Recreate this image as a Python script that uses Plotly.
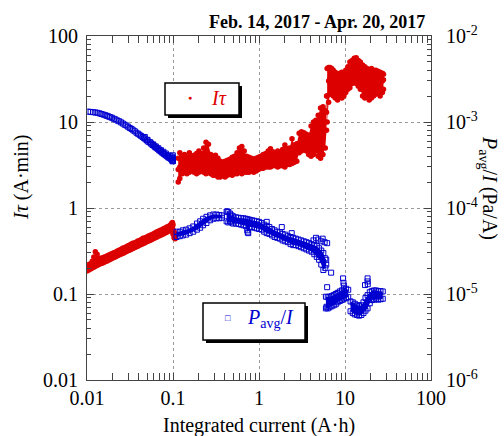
import plotly.graph_objects as go

RED = "#dc0000"
BLUE = "#0000d0"
FONT = "Liberation Serif"

# ---------------- I*tau (A·min) vs integrated current (A·h) ----------------
# segment 1: 0.01 - 0.106 A·h (thin rising band)
it1_x = [0.0100, 0.0105, 0.0110, 0.0115, 0.0120, 0.0125, 0.0131, 0.0137, 0.0143, 0.0150,
         0.0157, 0.0164, 0.0172, 0.0180, 0.0188, 0.0197, 0.0206, 0.0216, 0.0226, 0.0236,
         0.0247, 0.0259, 0.0271, 0.0283, 0.0296, 0.0310, 0.0325, 0.0340, 0.0356, 0.0372,
         0.0390, 0.0408, 0.0427, 0.0447, 0.0468, 0.0490, 0.0513, 0.0537, 0.0562, 0.0588,
         0.0616, 0.0645, 0.0675, 0.0706, 0.0739, 0.0774, 0.0810, 0.0848, 0.0888, 0.0929,
         0.0960, 0.0985, 0.1000, 0.1030, 0.1060]
it1_lo = [0.185, 0.190, 0.195, 0.200, 0.205, 0.210, 0.215, 0.220, 0.225, 0.228,
          0.232, 0.238, 0.242, 0.248, 0.254, 0.260, 0.265, 0.272, 0.278, 0.284,
          0.290, 0.296, 0.302, 0.310, 0.316, 0.322, 0.330, 0.338, 0.345, 0.352,
          0.360, 0.368, 0.376, 0.385, 0.392, 0.402, 0.410, 0.420, 0.428, 0.438,
          0.448, 0.458, 0.468, 0.478, 0.490, 0.500, 0.512, 0.522, 0.535, 0.548,
          0.555, 0.540, 0.500, 0.450, 0.440]
it1_mid = [0.195, 0.205, 0.210, 0.215, 0.225, 0.240, 0.235, 0.235, 0.240, 0.245,
           0.250, 0.255, 0.260, 0.265, 0.270, 0.278, 0.284, 0.290, 0.296, 0.302,
           0.310, 0.316, 0.323, 0.330, 0.337, 0.344, 0.352, 0.360, 0.368, 0.376,
           0.384, 0.393, 0.401, 0.410, 0.419, 0.429, 0.438, 0.448, 0.458, 0.468,
           0.479, 0.489, 0.500, 0.511, 0.522, 0.534, 0.546, 0.558, 0.570, 0.583,
           0.600, 0.610, 0.560, 0.480, 0.470]
it1_hi = [0.210, 0.220, 0.225, 0.240, 0.270, 0.310, 0.290, 0.255, 0.260, 0.262,
          0.268, 0.272, 0.278, 0.284, 0.290, 0.296, 0.302, 0.308, 0.316, 0.322,
          0.330, 0.340, 0.345, 0.352, 0.362, 0.368, 0.378, 0.390, 0.392, 0.400,
          0.412, 0.420, 0.430, 0.445, 0.448, 0.458, 0.470, 0.478, 0.490, 0.500,
          0.512, 0.525, 0.535, 0.548, 0.560, 0.572, 0.585, 0.600, 0.615, 0.630,
          0.660, 0.680, 0.640, 0.530, 0.500]

# segment 2: 0.115 - 6.1 A·h (noisy band 2-5, rising after 3 A·h)
it2_x = [0.115, 0.120, 0.128, 0.136, 0.145, 0.155, 0.165, 0.176, 0.188, 0.200,
         0.213, 0.227, 0.242, 0.258, 0.275, 0.293, 0.312, 0.333, 0.355, 0.378,
         0.403, 0.430, 0.458, 0.488, 0.520, 0.555, 0.592, 0.631, 0.673, 0.717,
         0.765, 0.815, 0.869, 0.927, 0.988, 1.05, 1.12, 1.20, 1.28, 1.36,
         1.45, 1.55, 1.65, 1.76, 1.88, 2.00, 2.13, 2.27, 2.42, 2.58,
         2.75, 2.93, 3.12, 3.33, 3.55, 3.78, 4.03, 4.30, 4.58, 4.88,
         5.20, 5.54, 5.90, 6.10]
it2_lo = [2.0, 2.2, 2.5, 2.6, 2.5, 2.6, 2.7, 2.6, 2.5, 2.6,
          2.7, 2.6, 2.5, 2.6, 2.5, 2.4, 2.4, 2.3, 2.3, 2.4,
          2.3, 2.4, 2.5, 2.4, 2.5, 2.5, 2.6, 2.5, 2.6, 2.6,
          2.6, 2.7, 2.6, 2.7, 2.8, 2.9, 2.9, 3.0, 3.0, 3.0,
          3.1, 3.1, 3.0, 3.1, 3.1, 3.0, 3.2, 3.2, 3.3, 3.4,
          3.5, 4.4, 4.6, 4.8, 4.6, 4.2, 4.0, 4.2, 4.6, 4.0,
          3.8, 4.2, 5.0, 8.0]
it2_mid = [2.8, 3.0, 3.2, 3.3, 3.1, 3.4, 3.3, 3.2, 3.3, 3.4,
           3.5, 3.6, 3.8, 3.5, 3.2, 3.1, 3.2, 3.0, 2.9, 2.8,
           2.9, 3.0, 3.1, 3.1, 3.2, 3.3, 3.5, 3.6, 3.4, 3.2,
           3.1, 3.2, 3.1, 3.2, 3.3, 3.4, 3.5, 3.5, 3.6, 3.7,
           3.6, 3.7, 3.6, 3.7, 3.8, 3.9, 3.9, 4.0, 4.3, 4.1,
           4.4, 5.6, 6.0, 6.2, 5.8, 5.5, 6.0, 6.5, 7.0, 7.5,
           7.8, 8.5, 10.0, 13.0]
it2_hi = [3.8, 4.4, 4.0, 4.2, 3.9, 4.4, 4.0, 4.1, 4.3, 4.6,
          4.3, 5.0, 5.8, 5.5, 4.2, 4.0, 4.1, 3.8, 3.5, 3.4,
          3.5, 3.6, 3.7, 3.9, 4.0, 4.4, 5.0, 5.2, 4.6, 4.0,
          3.9, 3.8, 3.7, 3.8, 3.9, 4.0, 4.2, 4.3, 4.6, 4.9,
          4.5, 4.4, 4.6, 4.4, 4.8, 5.4, 4.9, 5.0, 6.4, 5.4,
          5.6, 7.4, 7.7, 7.5, 7.2, 7.0, 9.0, 10.0, 10.5, 12.0,
          14.5, 15.0, 13.5, 20.0]

# segment 3: 6.2 - 28 A·h (high level 20-55)
it3_x = [6.20, 6.45, 6.70, 7.00, 7.30, 7.70, 8.20, 8.70, 9.20, 9.70,
         10.2, 10.8, 11.4, 12.1, 12.8, 13.5, 14.3, 15.1, 16.0, 17.0,
         18.0, 19.1, 20.3, 21.5, 22.8, 24.2, 25.6, 27.2, 28.0]
it3_lo = [10.0, 17.0, 21.0, 22.0, 20.0, 19.0, 18.0, 20.0, 19.0, 20.0,
          22.0, 24.0, 25.0, 28.0, 30.0, 28.0, 26.0, 24.0, 20.0, 19.0,
          20.0, 18.0, 19.0, 20.0, 21.0, 22.0, 20.0, 22.0, 24.0]
it3_mid = [20.0, 30.0, 32.0, 31.0, 30.0, 28.0, 27.0, 29.0, 28.0, 27.0,
           30.0, 32.0, 35.0, 38.0, 42.0, 40.0, 38.0, 34.0, 32.0, 30.0,
           31.0, 28.0, 30.0, 30.0, 31.0, 32.0, 29.0, 30.0, 31.0]
it3_hi = [42.0, 43.0, 43.0, 42.0, 40.0, 38.0, 36.0, 37.0, 38.0, 36.0,
          40.0, 44.0, 50.0, 52.0, 55.0, 56.0, 52.0, 50.0, 46.0, 44.0,
          42.0, 40.0, 42.0, 40.0, 40.0, 39.0, 38.0, 37.0, 36.0]

# ---------------- P_avg / I (Pa/A) ----------------
# segment 1: 0.01 - 0.1 A·h, individual squares
p1_x = [0.0103, 0.0110, 0.0118, 0.0125, 0.0132, 0.0140, 0.0147, 0.0155, 0.0163, 0.0170,
        0.0178, 0.0186, 0.0195, 0.0205, 0.0215, 0.0226, 0.0237, 0.0249, 0.0261, 0.0274,
        0.0287, 0.0301, 0.0315, 0.0330, 0.0345, 0.0360, 0.0376, 0.0392, 0.0408, 0.0425,
        0.0442, 0.0460, 0.0478, 0.0497, 0.0516, 0.0536, 0.0556, 0.0577, 0.0598, 0.0620,
        0.0642, 0.0665, 0.0688, 0.0712, 0.0736, 0.0761, 0.0786, 0.0812, 0.0838, 0.0865,
        0.0892, 0.0920, 0.0948, 0.0970, 0.0990, 0.1000,
        0.0470, 0.0506, 0.0546, 0.0588, 0.0631, 0.0676, 0.0724, 0.0774, 0.0825, 0.0878,
        0.0934, 0.0975, 0.0995, 0.1000, 0.0985]
p1_y = [1.32e-3, 1.31e-3, 1.30e-3, 1.29e-3, 1.28e-3, 1.26e-3, 1.24e-3, 1.22e-3, 1.20e-3, 1.18e-3,
        1.16e-3, 1.14e-3, 1.12e-3, 1.09e-3, 1.07e-3, 1.04e-3, 1.02e-3, 9.9e-4, 9.6e-4, 9.3e-4,
        9.1e-4, 8.8e-4, 8.5e-4, 8.3e-4, 8.0e-4, 7.8e-4, 7.5e-4, 7.3e-4, 7.1e-4, 6.9e-4,
        6.7e-4, 6.5e-4, 6.3e-4, 6.1e-4, 5.9e-4, 5.8e-4, 5.6e-4, 5.4e-4, 5.3e-4, 5.1e-4,
        5.0e-4, 4.85e-4, 4.7e-4, 4.6e-4, 4.45e-4, 4.35e-4, 4.25e-4, 4.15e-4, 4.05e-4, 3.95e-4,
        3.85e-4, 3.8e-4, 3.7e-4, 3.65e-4, 3.6e-4, 3.8e-4,
        6.7e-4, 6.2e-4, 5.8e-4, 5.5e-4, 5.2e-4, 4.95e-4, 4.7e-4, 4.5e-4, 4.3e-4, 4.1e-4,
        4.0e-4, 3.95e-4, 4.1e-4, 3.5e-4, 3.5e-4]

# segment 2a: 0.11 - 0.37 A·h
p2a_x = [0.110, 0.120, 0.130, 0.142, 0.156, 0.172, 0.190, 0.207, 0.224, 0.245,
         0.270, 0.295, 0.320, 0.345, 0.370]
p2a_lo = [4.6e-5, 4.7e-5, 4.8e-5, 4.9e-5, 5.1e-5, 5.3e-5, 5.6e-5, 5.9e-5, 6.3e-5, 6.7e-5,
          7.2e-5, 7.5e-5, 7.6e-5, 7.6e-5, 7.7e-5]
p2a_hi = [5.3e-5, 5.3e-5, 5.5e-5, 5.6e-5, 5.8e-5, 6.1e-5, 6.6e-5, 7.0e-5, 7.5e-5, 7.9e-5,
          8.2e-5, 8.4e-5, 8.4e-5, 8.3e-5, 8.2e-5]

# segment 2b: 0.42 - 6.05 A·h
p2b_x = [0.42, 0.44, 0.46, 0.48, 0.50, 0.54, 0.58, 0.62, 0.66, 0.70,
         0.74, 0.78, 0.83, 0.88, 0.94, 1.00, 1.07, 1.15, 1.23, 1.32,
         1.42, 1.52, 1.63, 1.75, 1.88, 2.02, 2.17, 2.33, 2.50, 2.68,
         2.88, 3.09, 3.32, 3.56, 3.82, 4.10, 4.40, 4.70, 5.00, 5.30,
         5.60, 5.90, 6.05]
p2b_lo = [7.0e-5, 6.8e-5, 7.0e-5, 6.8e-5, 6.6e-5, 6.6e-5, 6.5e-5, 6.4e-5, 6.3e-5, 6.2e-5,
          5.2e-5, 6.0e-5, 6.0e-5, 5.9e-5, 5.8e-5, 5.7e-5, 5.6e-5, 5.3e-5, 5.1e-5, 5.0e-5,
          4.8e-5, 4.6e-5, 4.5e-5, 4.4e-5, 4.2e-5, 4.1e-5, 4.0e-5, 3.8e-5, 3.7e-5, 3.7e-5,
          3.6e-5, 3.5e-5, 3.4e-5, 3.3e-5, 3.2e-5, 3.1e-5, 2.9e-5, 2.7e-5, 2.5e-5, 2.2e-5,
          1.9e-5, 2.0e-5, 2.2e-5]
p2b_hi = [9.1e-5, 9.0e-5, 8.6e-5, 8.2e-5, 8.0e-5, 7.8e-5, 7.7e-5, 7.6e-5, 7.6e-5, 7.5e-5,
          7.4e-5, 7.3e-5, 7.2e-5, 7.1e-5, 7.0e-5, 6.9e-5, 6.7e-5, 6.4e-5, 6.2e-5, 6.0e-5,
          5.7e-5, 5.5e-5, 5.3e-5, 5.2e-5, 5.0e-5, 4.9e-5, 4.7e-5, 4.6e-5, 4.5e-5, 4.4e-5,
          4.3e-5, 4.2e-5, 4.1e-5, 4.0e-5, 3.9e-5, 3.8e-5, 3.7e-5, 3.6e-5, 3.4e-5, 3.2e-5,
          3.0e-5, 2.6e-5, 2.5e-5]

# segment 3: 6.0 - 10.9 A·h
p3_x = [6.0, 6.3, 6.6, 7.0, 7.4, 7.8, 8.2, 8.7, 9.2, 9.7, 10.3, 10.9]
p3_lo = [6.8e-6, 6.8e-6, 7.0e-6, 7.2e-6, 7.4e-6, 7.6e-6, 8.0e-6, 8.3e-6, 8.5e-6, 8.8e-6, 9.0e-6, 9.2e-6]
p3_hi = [9.3e-6, 9.2e-6, 9.3e-6, 9.5e-6, 9.7e-6, 1.00e-5, 1.03e-5, 1.07e-5, 1.10e-5, 1.13e-5, 1.15e-5, 1.12e-5]

# segment 4: 11.6 - 27.5 A·h
p4_x = [11.6, 12.3, 13.0, 13.8, 14.6, 15.5, 16.4, 17.3, 18.3, 19.4,
        20.5, 21.7, 23.0, 24.4, 25.9, 27.5]
p4_lo = [6.3e-6, 6.0e-6, 5.8e-6, 5.7e-6, 5.6e-6, 5.7e-6, 6.0e-6, 6.4e-6, 6.8e-6, 7.8e-6,
         8.5e-6, 8.6e-6, 8.7e-6, 8.6e-6, 8.7e-6, 8.8e-6]
p4_hi = [8.2e-6, 8.0e-6, 7.7e-6, 7.4e-6, 7.3e-6, 7.4e-6, 8.0e-6, 9.0e-6, 9.7e-6, 1.05e-5,
         1.08e-5, 1.10e-5, 1.10e-5, 1.08e-5, 1.08e-5, 1.07e-5]

# scattered single squares
pout_x = [0.43, 0.73, 0.75, 1.23, 1.84, 2.4, 4.3, 4.6, 4.9, 5.3,
          5.5, 5.8, 6.2, 6.9, 6.2, 6.1, 9.5, 9.6, 9.7, 17.1,
          18.3, 18.3, 18.4]
pout_y = [9.1e-5, 5.5e-5, 5.1e-5, 6.9e-5, 6.0e-5, 5.1e-5, 4.2e-5, 4.5e-5, 4.3e-5, 4.1e-5,
          4.4e-5, 4.0e-5, 3.9e-5, 1.77e-5, 1.2e-5, 7.1e-6, 1.52e-5, 1.35e-5, 1.25e-5, 1.27e-5,
          1.52e-5, 1.4e-5, 1.3e-5]

for a, b in [(it1_x, it1_lo), (it1_x, it1_mid), (it1_x, it1_hi),
             (it2_x, it2_lo), (it2_x, it2_mid), (it2_x, it2_hi),
             (it3_x, it3_lo), (it3_x, it3_mid), (it3_x, it3_hi),
             (p1_x, p1_y), (p2a_x, p2a_lo), (p2a_x, p2a_hi), (p2b_x, p2b_lo), (p2b_x, p2b_hi),
             (p3_x, p3_lo), (p3_x, p3_hi), (p4_x, p4_lo), (p4_x, p4_hi), (pout_x, pout_y)]:
    assert len(a) == len(b), (len(a), len(b))

# ---------------- figure ----------------
W, H = 504, 436
ML, MR, MT, MB = 87, 73, 36, 56
PW, PH = W - ML - MR, H - MT - MB


def px(xp):
    return (xp - ML) / PW


def py(yp):
    return (H - MB - yp) / PH


def band(xs, lo, hi):
    return list(xs) + list(xs)[::-1], list(hi) + list(lo)[::-1]


fig = go.Figure()

# blue series (right axis)
for xs, lo, hi in [(p2a_x, p2a_lo, p2a_hi), (p2b_x, p2b_lo, p2b_hi),
                   (p3_x, p3_lo, p3_hi), (p4_x, p4_lo, p4_hi)]:
    bx, by = band(xs, lo, hi)
    fig.add_trace(go.Scatter(x=bx, y=by, yaxis="y2", mode="none", fill="toself",
                             fillcolor=BLUE, hoverinfo="skip", showlegend=False))
    fig.add_trace(go.Scatter(x=list(xs) + list(xs), y=list(lo) + list(hi), yaxis="y2",
                             mode="markers", showlegend=False,
                             marker=dict(symbol="square-open", size=5, color=BLUE,
                                         line=dict(width=1, color=BLUE))))
fig.add_trace(go.Scatter(x=p1_x + pout_x, y=p1_y + pout_y, yaxis="y2", mode="markers",
                         showlegend=False,
                         marker=dict(symbol="square-open", size=5, color=BLUE,
                                     line=dict(width=1, color=BLUE))))

# red series (left axis)
for xs, lo, mid, hi in [(it1_x, it1_lo, it1_mid, it1_hi), (it2_x, it2_lo, it2_mid, it2_hi),
                        (it3_x, it3_lo, it3_mid, it3_hi)]:
    bx, by = band(xs, lo, hi)
    fig.add_trace(go.Scatter(x=bx, y=by, mode="none", fill="toself", fillcolor=RED,
                             hoverinfo="skip", showlegend=False))
    fig.add_trace(go.Scatter(x=list(xs) * 3, y=list(lo) + list(mid) + list(hi),
                             mode="markers", showlegend=False,
                             marker=dict(symbol="circle", size=5.5, color=RED,
                                         line=dict(width=0))))

axis_common = dict(
    type="log", ticks="inside", ticklen=7, tickwidth=1, tickcolor="#444",
    showline=True, linecolor="#444", linewidth=1,
    tickfont=dict(family=FONT, size=20, color="black"),
    minor=dict(ticks="inside", ticklen=4, tickcolor="#444", dtick="D1", showgrid=False),
    zeroline=False,
)

fig.update_layout(
    width=W, height=H,
    margin=dict(l=ML, r=MR, t=MT, b=MB),
    paper_bgcolor="white", plot_bgcolor="white",
    font=dict(family=FONT, size=20, color="black"),
    showlegend=False,
    xaxis=dict(axis_common, range=[-2, 2],
               tickvals=[0.01, 0.1, 1, 10, 100], ticktext=["0.01", "0.1", "1", "10", "100"],
               mirror="allticks", showgrid=True, gridcolor="#9a9a9a", griddash="dot",
               gridwidth=1, ticklabelstandoff=0),
    yaxis=dict(axis_common, range=[-2, 2],
               tickvals=[0.01, 0.1, 1, 10, 100], ticktext=["0.01", "0.1", "1", "10", "100"],
               showgrid=True, gridcolor="#9a9a9a", griddash="dot", gridwidth=1,
               ticklabelstandoff=4),
    yaxis2=dict(axis_common, range=[-6, -2], overlaying="y", side="right",
                tickvals=[1e-6, 1e-5, 1e-4, 1e-3, 1e-2],
                ticktext=["10<sup>-6</sup>", "10<sup>-5</sup>", "10<sup>-4</sup>",
                          "10<sup>-3</sup>", "10<sup>-2</sup>"],
                showgrid=False, ticklabelstandoff=10),
)

# legend boxes with drop shadows
shapes = []
for (x0, y0, x1, y1) in [(165, 83, 239, 115), (203, 303, 305, 340)]:
    shapes.append(dict(type="rect", xref="paper", yref="paper",
                       x0=px(x0 + 3), x1=px(x1 + 3), y0=py(y1 + 3), y1=py(y0 + 3),
                       fillcolor="black", line=dict(width=0), layer="above"))
    shapes.append(dict(type="rect", xref="paper", yref="paper",
                       x0=px(x0), x1=px(x1), y0=py(y1), y1=py(y0),
                       fillcolor="white", line=dict(color="black", width=1.5), layer="above"))
fig.update_layout(shapes=shapes)


def ann(text, xp, yp, size=20, color="black", angle=0, xanchor="center", yanchor="middle"):
    fig.add_annotation(text=text, x=px(xp), y=py(yp), xref="paper", yref="paper",
                       showarrow=False, textangle=angle, xanchor=xanchor, yanchor=yanchor,
                       font=dict(family=FONT, size=size, color=color))


ann("●", 190, 98, size=7, color=RED)
ann("<i>Iτ</i>", 219, 98, size=20, color=RED)
ann("□", 228, 318, size=9, color=BLUE)
ann("<i>P</i><sub>avg</sub>/<i>I</i>", 270, 318, size=20, color=BLUE)

ann("<b>Feb. 14, 2017 - Apr. 20, 2017</b>", 427, 22, size=18, xanchor="right")
ann("Integrated current (A·h)", 259, 425, size=20)
ann("<i>Iτ</i> (A·min)", 22, 178, size=20, angle=-90)
ann("<i>P</i><sub>avg</sub>/<i>I</i> (Pa/A)", 489, 188, size=20, angle=90)

fig.write_html("out.html", config={"displayModeBar": False},
               post_script="document.body.style.margin='0';document.body.style.padding='0';")
